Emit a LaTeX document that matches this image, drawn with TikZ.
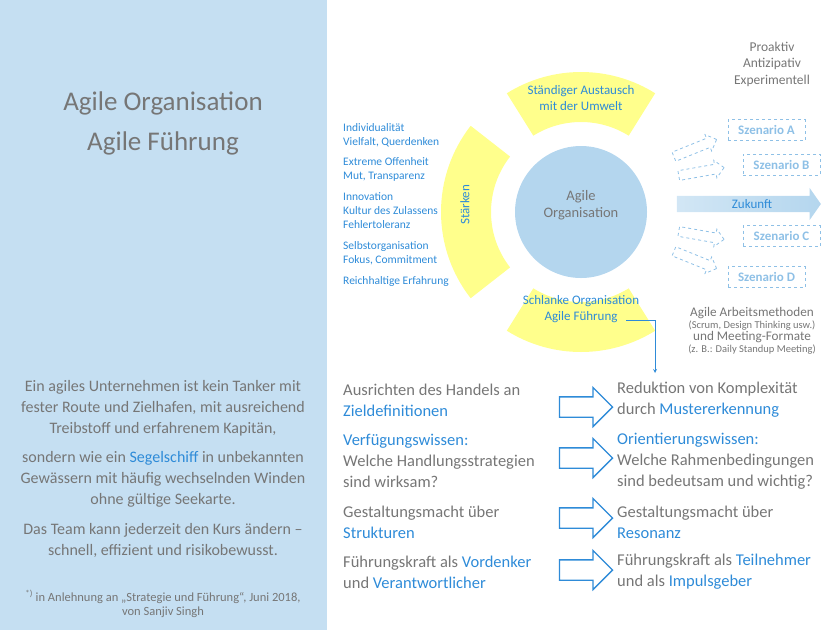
\documentclass[tikz,border=0pt]{standalone}
\usepackage{fontspec}
\setmainfont{Carlito}
\usetikzlibrary{shapes.arrows,positioning,calc}
\definecolor{panelblue}{HTML}{C5DFF2}
\definecolor{txtgray}{HTML}{767676}
\definecolor{txtblue}{HTML}{2E8BD8}
\definecolor{ringyellow}{HTML}{FFFF8C}
\definecolor{coreblue}{HTML}{B4D6EE}
\definecolor{dashblue}{HTML}{8EC0E6}
\tikzset{
  gray text/.style={text=txtgray, align=center, inner sep=0pt},
  list text/.style={text=txtblue, font=\fontsize{11.5}{14}\selectfont, align=left, anchor=west, inner sep=0pt},
  row text/.style={text=txtgray, font=\fontsize{16.5}{21}\selectfont, align=left, anchor=west, inner sep=0pt},
  hollow arrow/.style={single arrow, draw=txtblue, line width=1.3pt, fill=white, minimum height=53pt, single arrow head extend=9.5pt, inner sep=0pt},
  scen box/.style={draw=dashblue, dashed, thick, text=dashblue, font=\fontsize{13}{14}\selectfont\bfseries, minimum width=77pt, minimum height=21pt, inner sep=0pt},
  scen arrow/.style={single arrow, draw=dashblue, dashed, thick, minimum height=46pt, single arrow head extend=4pt, inner sep=0pt},
  ring/.style={fill=ringyellow, draw=none}
}
\newcommand{\hl}[1]{\textcolor{txtblue}{#1}}
\begin{document}
\begin{tikzpicture}[x=1pt,y=-1pt]
  \useasboundingbox (0,0) rectangle (838,630);
  % left panel
  \fill[panelblue] (0,0) rectangle (327,630);
  \node[gray text, font=\fontsize{27}{40}\selectfont] (title) at (163,123) {Agile Organisation\\Agile Führung};
  \node[gray text, font=\fontsize{16}{21}\selectfont] (tanker) at (163,408) {Ein agiles Unternehmen ist kein Tanker mit\\fester Route und Zielhafen, mit ausreichend\\Treibstoff und erfahrenem Kapitän,};
  \node[gray text, font=\fontsize{16}{21}\selectfont] (segel) at (163,479) {sondern wie ein \hl{Segelschiff} in unbekannten\\Gewässern mit häufig wechselnden Winden\\ohne gültige Seekarte.};
  \node[gray text, font=\fontsize{16}{21}\selectfont] (team) at (163,540) {Das Team kann jederzeit den Kurs ändern --\\schnell, effizient und risikobewusst.};
  \node[gray text, font=\fontsize{12.5}{14}\selectfont] (quelle) at (163,604) {\textsuperscript{*)} in Anlehnung an „Strategie und Führung“, Juni 2018,\\von Sanjiv Singh};

  % ring around the core
  \coordinate (c) at (581,212);
  \begin{scope}[shift={(c)}, y=1pt]
    \foreach \a/\b in {58/122,142/218,238/302}
      \fill[ring] (\a:90) arc[start angle=\a, end angle=\b, radius=90]
        -- (\b:140) arc[start angle=\b, end angle=\a, radius=140] -- cycle;
  \end{scope}
  \fill[coreblue] (c) circle[radius=66];
  \node[gray text, font=\fontsize{14.5}{17}\selectfont] (core) at (581,205) {Agile\\Organisation};
  \node[text=txtblue, font=\fontsize{13}{16}\selectfont, align=center] (austausch) at (581,98) {Ständiger Austausch\\mit der Umwelt};
  \node[text=txtblue, font=\fontsize{13}{16}\selectfont, align=center] (schlank) at (581,309) {Schlanke Organisation\\Agile Führung};
  \node[text=txtblue, font=\fontsize{13}{15}\selectfont, rotate=90] (staerken) at (465,205) {Stärken};
  \coordinate (knick) at (655,320);
  \coordinate (unten) at (655,373);
  \draw[txtblue, thick, -stealth] (626,320) -- (knick) -- (unten);

  % strengths
  \node[list text] (s1) at (343,135) {Individualität\\Vielfalt, Querdenken};
  \node[list text] (s2) at (343,169) {Extreme Offenheit\\Mut, Transparenz};
  \node[list text] (s3) at (343,211) {Innovation\\Kultur des Zulassens\\Fehlertoleranz};
  \node[list text] (s4) at (343,253) {Selbstorganisation\\Fokus, Commitment};
  \node[list text] (s5) at (343,281) {Reichhaltige Erfahrung};

  % future
  \node[gray text, font=\fontsize{13.5}{16.5}\selectfont] (modi) at (772,64) {Proaktiv\\Antizipativ\\Experimentell};
  \node[single arrow, left color=coreblue!60, right color=coreblue, minimum height=144pt, single arrow head extend=8pt, single arrow tip angle=110, inner sep=0pt] (zukunft) at (746,204) {\rule{0pt}{16pt}};
  \node[text=txtblue, font=\fontsize{13}{14}\selectfont] (zuk) at (752,204) {Zukunft};
  \node[scen box] (A) at (766.5,130) {Szenario A};
  \node[scen box] (B) at (781.5,164.5) {Szenario B};
  \node[scen box] (C) at (781.5,236) {Szenario C};
  \node[scen box] (D) at (766.5,277) {Szenario D};
  \node[scen arrow, rotate=22] (pa) at (693,149) {\rule{0pt}{9pt}};
  \node[scen arrow, rotate=10] (pb) at (699,172) {\rule{0pt}{9pt}};
  \node[scen arrow, rotate=-10] (pc) at (699,235) {\rule{0pt}{9pt}};
  \node[scen arrow, rotate=-22] (pd) at (693,259) {\rule{0pt}{9pt}};
  \node[gray text] (methoden) at (752,331) {{\fontsize{13.2}{15}\selectfont Agile Arbeitsmethoden}\\
    {\fontsize{10.5}{12}\selectfont (Scrum, Design Thinking usw.)}\\
    {\fontsize{13.2}{15}\selectfont und Meeting-Formate}\\
    {\fontsize{10.5}{12}\selectfont (z. B.: Daily Standup Meeting)}};

  % comparison rows
  \node[row text] (l1) at (343,400) {Ausrichten des Handels an\\\hl{Zieldefinitionen}};
  \node[row text] (r1) at (617,400) {Reduktion von Komplexität\\durch \hl{Mustererkennung}};
  \node[row text] (l2) at (343,461) {\hl{Verfügungswissen:}\\Welche Handlungsstrategien\\sind wirksam?};
  \node[row text] (r2) at (617,461) {\hl{Orientierungswissen:}\\Welche Rahmenbedingungen\\sind bedeutsam und wichtig?};
  \node[row text] (l3) at (343,522) {Gestaltungsmacht über\\\hl{Strukturen}};
  \node[row text] (r3) at (617,522) {Gestaltungsmacht über\\\hl{Resonanz}};
  \node[row text] (l4) at (343,572) {Führungskraft als \hl{Vordenker}\\und \hl{Verantwortlicher}};
  \node[row text] (r4) at (617,572) {Führungskraft als \hl{Teilnehmer}\\und als \hl{Impulsgeber}};
  \foreach \y/\n in {407/1,458/2,518/3,570/4}
    \node[hollow arrow] (pfeil\n) at (581,\y) {\rule{0pt}{19pt}};
\end{tikzpicture}
\end{document}
